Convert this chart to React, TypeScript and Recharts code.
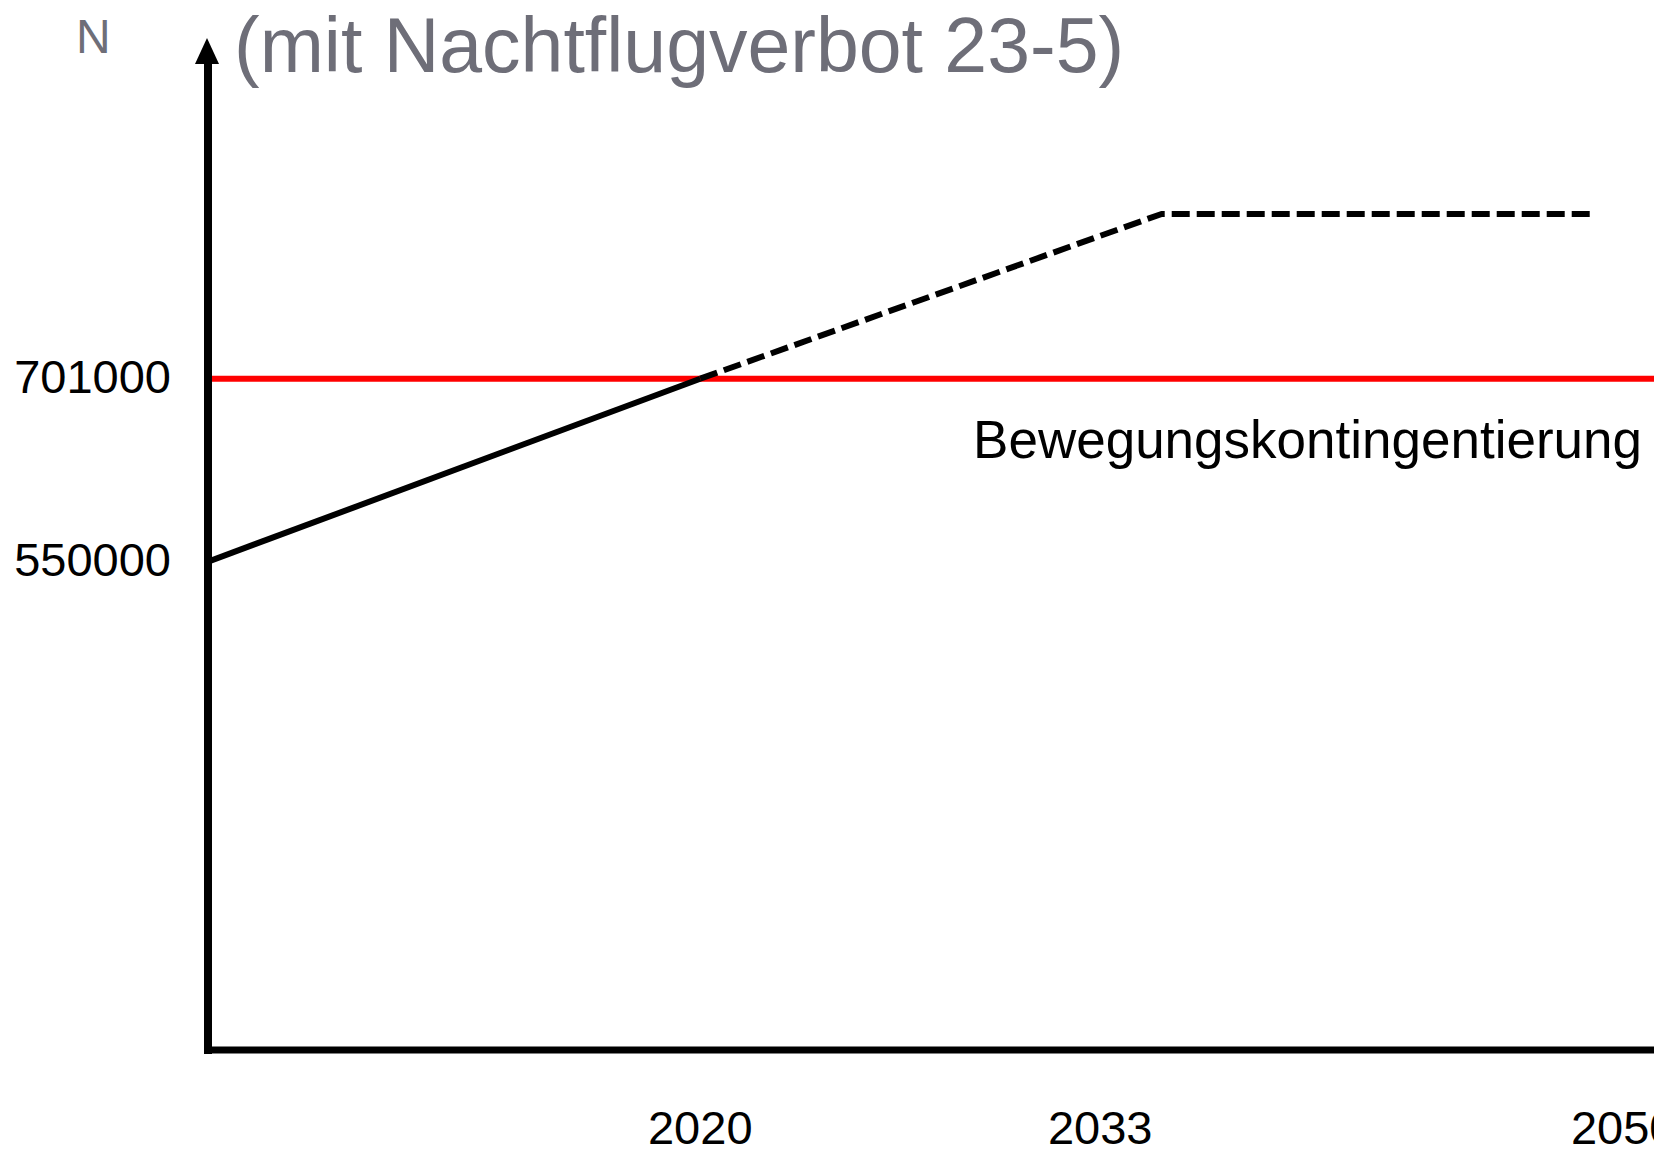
import { LineChart, Line, XAxis, YAxis, ReferenceLine } from "recharts"

// schematic: aircraft movements per year
const years = [2004, 2020, 2035, 2049]
const movements = [550000, 701000, null, null]
const forecast = [null, 701000, 837000, 837000]
const capLimit = 701000
const capLabel = "Bewegungskontingentierung"
const xTicks = [2020, 2033, 2050]
const yTicks = [550000, 701000]
const title = "(mit Nachtflugverbot 23-5)"
const yName = "N"

const data = years.map((year, i) => ({
  year,
  movements: movements[i],
  forecast: forecast[i],
}))

const FONT = "'Liberation Sans', Arial, sans-serif"
const GREY = "#6e6e78"

function LimitLabel(props: any) {
  const vb = props.viewBox || { x: 208, y: 379, width: 1446 }
  return (
    <text
      x={vb.x + vb.width - 12}
      y={vb.y + 79}
      textAnchor="end"
      fontSize={53}
      fill="#000"
      fontFamily={FONT}
    >
      {capLabel}
    </text>
  )
}

export default function App() {
  return (
    <div style={{ position: "absolute", left: 0, top: 0, width: 1654, height: 1154, background: "#fff" }}>
      <LineChart
        width={1654}
        height={1154}
        data={data}
        margin={{ top: 60, right: 0, bottom: 0, left: 0 }}
        style={{ fontFamily: FONT }}
      >
        <XAxis
          dataKey="year"
          type="number"
          domain={[2004, 2051]}
          ticks={xTicks}
          interval={0}
          tickLine={false}
          tickSize={0}
          tickMargin={61}
          height={104}
          allowDataOverflow
          axisLine={{ stroke: "#000", strokeWidth: 7, strokeLinecap: "square" }}
          tick={{ fill: "#000", fontSize: 47, fontFamily: FONT }}
        />
        <YAxis
          type="number"
          domain={[147000, 964000]}
          ticks={yTicks}
          interval={0}
          width={208}
          tickLine={false}
          tickSize={0}
          tickMargin={37}
          allowDataOverflow
          tickFormatter={(v) => `${v}`}
          axisLine={{ stroke: "#000", strokeWidth: 8, strokeLinecap: "square" }}
          tick={{ fill: "#000", fontSize: 47, fontFamily: FONT, dy: -2 }}
        />
        <ReferenceLine y={capLimit} stroke="#ff0000" strokeWidth={6} label={<LimitLabel />} />
        <Line
          type="linear"
          dataKey="movements"
          stroke="#000"
          strokeWidth={6}
          dot={false}
          activeDot={false}
          isAnimationActive={false}
        />
        <Line
          type="linear"
          dataKey="forecast"
          stroke="#000"
          strokeWidth={6}
          strokeDasharray="18 7"
          dot={false}
          activeDot={false}
          isAnimationActive={false}
        />
      </LineChart>
      <svg
        width={1654}
        height={1154}
        style={{ position: "absolute", left: 0, top: 0, pointerEvents: "none" }}
      >
        <polygon points="207,38 195,64 219,64" fill="#000" />
        <text x={76} y={53} fontSize={48} fill={GREY} fontFamily={FONT}>
          {yName}
        </text>
        <text x={234} y={72} fontSize={77} fill={GREY} fontFamily={FONT}>
          {title}
        </text>
      </svg>
    </div>
  )
}
